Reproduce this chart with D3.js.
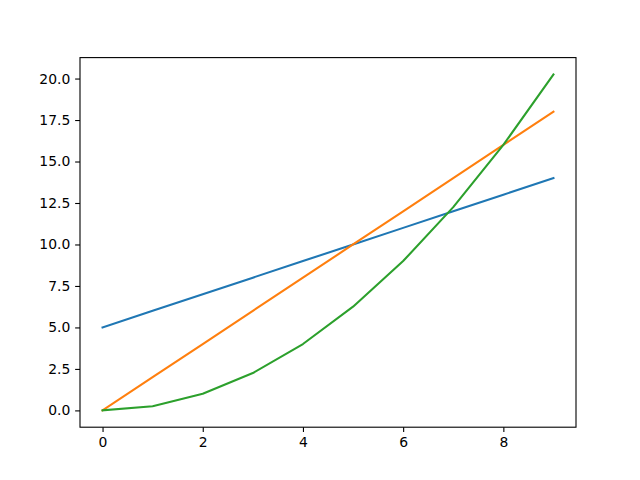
<!DOCTYPE html>
<html>
<head>
<meta charset="utf-8">
<script src="https://cdn.jsdelivr.net/npm/d3@7"></script>
<style>
  body { margin: 0; background: #fff; }
  svg text { font-family: "DejaVu Sans", sans-serif; }
</style>
</head>
<body>
<div id="chart"></div>
<script>
// data
const xValues = [0, 1, 2, 3, 4, 5, 6, 7, 8, 9];
const blueValues = [5, 6, 7, 8, 9, 10, 11, 12, 13, 14];
const orangeValues = [0, 2, 4, 6, 8, 10, 12, 14, 16, 18];
const greenValues = [0, 0.25, 1, 2.25, 4, 6.25, 9, 12.25, 16, 20.25];
const xTicks = [0, 2, 4, 6, 8];
const yTicks = [0, 2.5, 5, 7.5, 10, 12.5, 15, 17.5, 20];
const seriesColors = ['#1f77b4', '#ff7f0e', '#2ca02c'];

const width = 640, height = 480;
const margin = {top: 57.6, right: 64, bottom: 52.8, left: 80};

const svg = d3.select('#chart').append('svg')
  .attr('width', width)
  .attr('height', height);

// matplotlib style 5% padding
const xPad = (d3.max(xValues) - d3.min(xValues)) * 0.05;
const yMax = d3.max([...blueValues, ...orangeValues, ...greenValues]);
const yMin = d3.min([...blueValues, ...orangeValues, ...greenValues]);
const yPad = (yMax - yMin) * 0.05;

const xScale = d3.scaleLinear()
  .domain([d3.min(xValues) - xPad, d3.max(xValues) + xPad])
  .range([margin.left, width - margin.right]);
const yScale = d3.scaleLinear()
  .domain([yMin - yPad, yMax + yPad])
  .range([height - margin.bottom, margin.top]);

const line = d3.line()
  .x((d, i) => xScale(xValues[i]))
  .y(d => yScale(d));

svg.append('g')
  .attr('fill', 'none')
  .attr('stroke-width', 2.08)
  .attr('stroke-linejoin', 'round')
  .attr('stroke-linecap', 'square')
  .selectAll('path')
  .data([blueValues, orangeValues, greenValues])
  .enter().append('path')
    .attr('stroke', (d, i) => seriesColors[i])
    .attr('d', d => line(d));

let xAxis = g => g.attr('transform', `translate(0, ${height - margin.bottom})`)
  .call(d3.axisBottom(xScale).tickValues(xTicks).tickSize(4.86).tickPadding(4.86).tickFormat(d3.format('d')))
  .call(g => g.select('.domain').remove())
  .call(g => g.selectAll('.tick line').attr('stroke-width', 1.1))
  .call(g => g.selectAll('.tick text').attr('font-size', 13.9).attr('fill', '#000'));

let yAxis = g => g.attr('transform', `translate(${margin.left}, 0)`)
  .call(d3.axisLeft(yScale).tickValues(yTicks).tickSize(4.86).tickPadding(4.86).tickFormat(d3.format('.1f')))
  .call(g => g.select('.domain').remove())
  .call(g => g.selectAll('.tick line').attr('stroke-width', 1.1))
  .call(g => g.selectAll('.tick text').attr('font-size', 13.9).attr('fill', '#000'));

svg.append('g').call(xAxis);
svg.append('g').call(yAxis);

// frame
svg.append('rect')
  .attr('x', margin.left)
  .attr('y', margin.top)
  .attr('width', width - margin.left - margin.right)
  .attr('height', height - margin.top - margin.bottom)
  .attr('fill', 'none')
  .attr('stroke', '#000')
  .attr('stroke-width', 1.1);
</script>
</body>
</html>
